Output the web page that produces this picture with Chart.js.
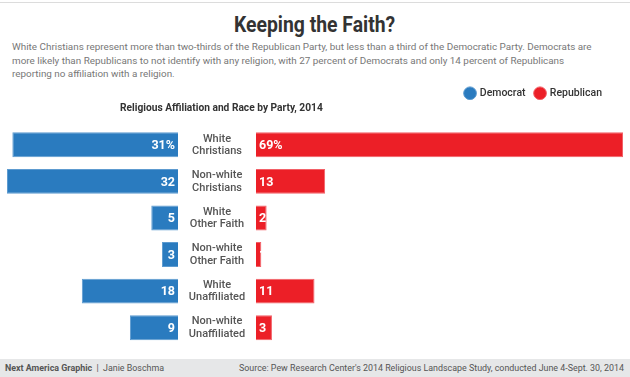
<!DOCTYPE html>
<html>
<head>
<meta charset="utf-8">
<script src="https://cdn.jsdelivr.net/npm/chart.js@4"></script>
<style>
  body { margin: 0; width: 630px; height: 377px; position: relative; overflow: hidden; background: #fff; font-family: Roboto, sans-serif; }
  .rule { position: absolute; top: 2px; left: 0; width: 630px; height: 1px; background: #dcdcdc; }
  .title { position: absolute; top: 12px; left: 0; width: 630px; text-align: center; font-size: 22px; font-weight: 700; color: #333; }
  .title span { display: inline-block; transform: scaleX(0.88); }
  .desc { position: absolute; top: 40px; left: 12px; white-space: nowrap; font-size: 9.9px; line-height: 13.5px; color: #777; }
  .sub { position: absolute; top: 102px; left: 120px; font-size: 10.2px; font-weight: 700; color: #333; }
  .foot { position: absolute; top: 359px; left: 0; width: 630px; height: 18px; background: #e6e7e8; font-size: 8.9px; color: #555; line-height: 18px; }
  .foot .l { position: absolute; left: 5px; }
  .foot .r { position: absolute; right: 6px; }
  #wrap { position: absolute; left: 0; top: 78px; width: 630px; height: 272px; }
</style>
</head>
<body>
<div class="rule"></div>
<div class="title"><span>Keeping the Faith?</span></div>
<div class="desc">White Christians represent more than two-thirds of the Republican Party, but less than a third of the Democratic Party. Democrats are<br>more likely than Republicans to not identify with any religion, with 27 percent of Democrats and only 14 percent of Republicans<br>reporting no affiliation with a religion.</div>
<div id="wrap"><canvas id="chart"></canvas></div>
<div class="sub">Religious Affiliation and Race by Party, 2014</div>
<div class="foot"><span class="l"><b>Next America Graphic</b> &nbsp;|&nbsp; Janie Boschma</span><span class="r">Source: Pew Research Center's 2014 Religious Landscape Study, conducted June 4-Sept. 30, 2014</span></div>
<script>
const categories = [
    ['White', 'Christians'],
    ['Non-white', 'Christians'],
    ['White', 'Other Faith'],
    ['Non-white', 'Other Faith'],
    ['White', 'Unaffiliated'],
    ['Non-white', 'Unaffiliated']
];
const democrat = [31, 32, 5, 3, 18, 9];
const republican = [69, 13, 2, 1, 11, 3];

const blue = '#2a7bbf';
const red = '#ec1f27';

// extra room under the legend for the subtitle, legend pulled in from the right edge
const legendGap = {
    id: 'legendGap',
    beforeInit(chart) {
        const fit = chart.legend.fit;
        chart.legend.fit = function() {
            fit.bind(chart.legend)();
            this.height += 18;
        };
    },
    afterLayout(chart) {
        chart.legend.right -= 11;
        chart.legend.width -= 11;
    }
};

// category names in the middle column, numbers inside the bars
const barText = {
    id: 'barText',
    afterDatasetsDraw(chart) {
        const ctx = chart.ctx;
        const y = chart.scales.y;
        const gap = chart.scales.xGap;
        const mid = (gap.left + gap.right) / 2;
        ctx.save();
        ctx.textBaseline = 'middle';
        ctx.textAlign = 'center';
        ctx.fillStyle = '#555';
        ctx.font = '500 11px Roboto';
        categories.forEach((lines, i) => {
            const cy = y.getPixelForValue(i);
            ctx.fillText(lines[0], mid, cy - 6);
            ctx.fillText(lines[1], mid, cy + 6.5);
        });
        ctx.fillStyle = '#fff';
        ctx.font = 'bold 12.5px Roboto';
        chart.data.datasets.forEach((ds, d) => {
            chart.getDatasetMeta(d).data.forEach((bar, i) => {
                const txt = ds.data[i] + (i === 0 ? '%' : '');
                if (d === 0) {
                    ctx.textAlign = 'right';
                    ctx.fillText(txt, bar.base - 3, bar.y + 1);
                } else {
                    ctx.textAlign = 'left';
                    ctx.fillText(txt, bar.base + 3, bar.y + 1);
                }
            });
        });
        ctx.restore();
    }
};

new Chart(document.getElementById('chart'), {
    type: 'bar',
    data: {
        labels: categories,
        datasets: [
            {
                label: 'Democrat',
                data: democrat,
                xAxisID: 'xDem',
                backgroundColor: blue,
                borderColor: '#5d9bd0',
                borderWidth: 1
            },
            {
                label: 'Republican',
                data: republican,
                xAxisID: 'xRep',
                backgroundColor: red,
                borderColor: '#f26067',
                borderWidth: 1
            }
        ]
    },
    options: {
        indexAxis: 'y',
        responsive: true,
        maintainAspectRatio: false,
        animation: false,
        grouped: false,
        barPercentage: 0.68,
        categoryPercentage: 1,
        layout: { padding: { left: 7, right: 7, top: 0, bottom: 4 } },
        plugins: {
            legend: {
                position: 'top',
                align: 'end',
                labels: {
                    usePointStyle: true,
                    pointStyle: 'circle',
                    boxWidth: 9,
                    boxHeight: 9,
                    padding: 10,
                    color: '#333',
                    font: { family: 'Roboto', size: 10.5, weight: '500' }
                }
            },
            tooltip: { enabled: false }
        },
        scales: {
            y: { type: 'category', display: false },
            xDem: { type: 'linear', position: 'bottom', stack: 'row', stackWeight: 171, reverse: true, min: 0, max: 32, display: false },
            xGap: { type: 'linear', position: 'bottom', stack: 'row', stackWeight: 78, min: 0, max: 1, display: false },
            xRep: { type: 'linear', position: 'bottom', stack: 'row', stackWeight: 367, min: 0, max: 69, display: false }
        }
    },
    plugins: [legendGap, barText]
});
</script>
</body>
</html>
